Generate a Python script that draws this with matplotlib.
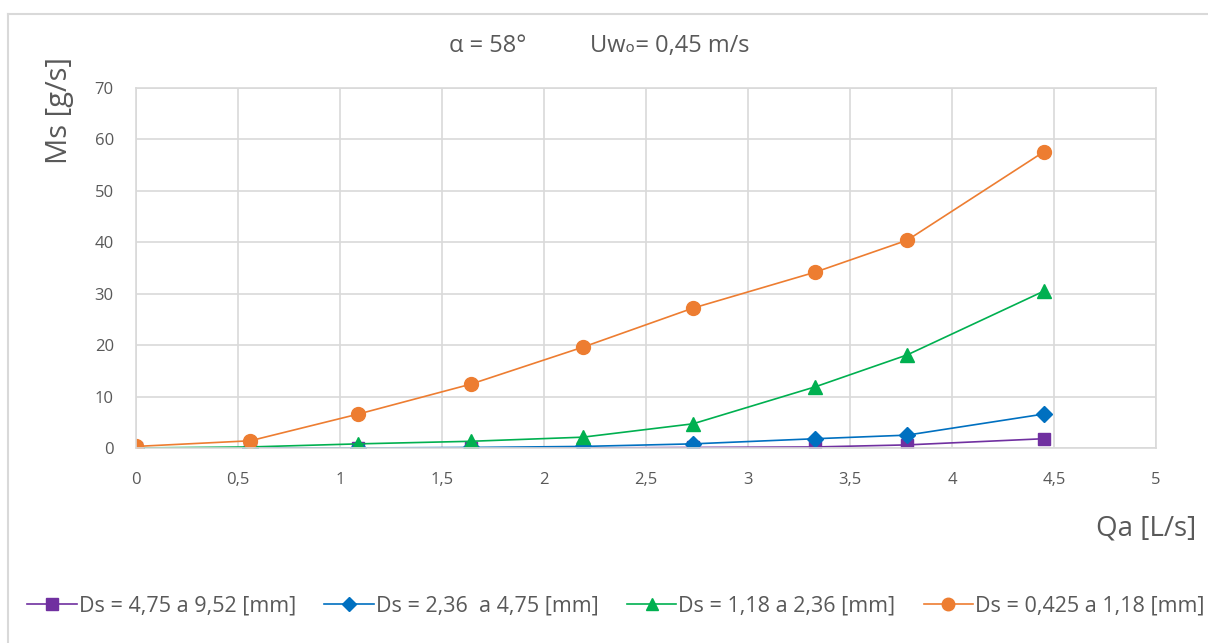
import matplotlib
matplotlib.use("Agg")
import matplotlib.pyplot as plt
from matplotlib.lines import Line2D
from matplotlib.ticker import FuncFormatter

plt.rcParams['font.family'] = ['Open Sans', 'DejaVu Sans']

# caudal de aire [L/s]
qa = [0, 0.56, 1.09, 1.64, 2.19, 2.73, 3.33, 3.78, 4.45]

# caudal solido [g/s] por rango de diametro
ms_grueso = [0, 0, 0, 0, 0, 0.1, 0.2, 0.6, 1.8]
ms_medio = [0, 0, 0, 0.1, 0.3, 0.8, 1.8, 2.5, 6.6]
ms_fino = [0, 0.2, 0.8, 1.3, 2.1, 4.7, 11.9, 18.1, 30.5]
ms_muyfino = [0.3, 1.4, 6.6, 12.4, 19.6, 27.2, 34.2, 40.4, 57.6]

etiquetas = ["Ds = 4,75 a 9,52 [mm]", "Ds = 2,36  a 4,75 [mm]",
             "Ds = 1,18 a 2,36 [mm]", "Ds = 0,425 a 1,18 [mm]"]

gris = '#595959'
fig = plt.figure(figsize=(12.08, 6.43), dpi=100)
ax = fig.add_axes([0.1126, 0.3033, 0.8444, 0.5598])

series = [
    (ms_grueso, '#7030A0', 's', 9),
    (ms_medio, '#0070C0', 'D', 8),
    (ms_fino, '#00B050', '^', 10),
    (ms_muyfino, '#ED7D31', 'o', 10),
]
for (ys, col, mk, sz), lab in zip(series, etiquetas):
    ax.plot(qa, ys, color=col, lw=1.2, marker=mk, ms=sz, label=lab,
            markeredgecolor=col)

ax.set_xlim(0, 5)
ax.set_ylim(0, 70)
ax.set_xticks([0, 0.5, 1, 1.5, 2, 2.5, 3, 3.5, 4, 4.5, 5])
ax.set_yticks(range(0, 80, 10))
coma = FuncFormatter(lambda v, p: ('%g' % v).replace('.', ','))
ax.xaxis.set_major_formatter(coma)
ax.grid(True, color='#d9d9d9', lw=1.2)
ax.set_axisbelow(True)
for s in ax.spines.values():
    s.set_color('#d9d9d9')
    s.set_linewidth(1.2)
ax.tick_params(length=0, labelsize=12, colors=gris)
ax.tick_params(axis='x', pad=17)
ax.tick_params(axis='y', pad=16)

fig.text(0.049, 0.912, "Ms [g/s]", rotation=90, fontsize=21, color=gris,
         ha='center', va='top')
fig.text(0.99, 0.178, "Qa [L/s]", fontsize=20, color=gris, ha='right',
         va='center')
fig.text(0.372, 0.928, "\u03b1 = 58\u00b0", fontsize=17, color=gris,
         ha='left', va='center')
fig.text(0.488, 0.928, "Uw\u2092= 0,45 m/s", fontsize=17, color=gris,
         ha='left', va='center')

ax.legend(loc='center', bbox_to_anchor=(0.51, 0.057),
          bbox_transform=fig.transFigure, ncol=4, frameon=False,
          fontsize=15.5, labelcolor=gris, handlelength=2.3,
          handletextpad=0.1, columnspacing=1.3, markerscale=0.9)

# borde del grafico
fig.add_artist(Line2D([0.007, 0.007], [0, 0.978], color='#d9d9d9', lw=1.5))
fig.add_artist(Line2D([0.007, 1.0], [0.978, 0.978], color='#d9d9d9', lw=1.5))

fig.savefig("out.png", dpi=100)
